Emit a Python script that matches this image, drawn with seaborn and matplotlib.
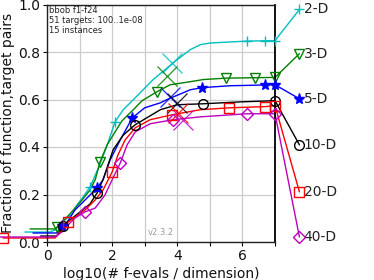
import numpy as np
import pandas as pd
import matplotlib
matplotlib.use("Agg")
import matplotlib.pyplot as plt
import seaborn as sns

# ---------------- data ----------------
dims = ["2-D", "3-D", "5-D", "10-D", "20-D", "40-D"]
colors = ["c", "g", "b", "k", "r", "m"]
markers = ["+", "v", "*", "o", "s", "D"]

x_2d = [-0.68, 0.09, 0.25, 0.40, 0.55, 0.77, 0.92, 1.11, 1.32, 1.42, 1.63, 1.85, 2.09, 2.34, 2.65, 3.26, 3.88, 4.40, 4.71, 5.02, 6.15, 7.0]
y_2d = [0.042, 0.042, 0.051, 0.068, 0.093, 0.118, 0.156, 0.19, 0.232, 0.262, 0.329, 0.409, 0.506, 0.557, 0.599, 0.684, 0.755, 0.81, 0.831, 0.838, 0.846, 0.848]

x_3d = [-0.52, 0.25, 0.40, 0.65, 0.86, 1.08, 1.32, 1.48, 1.63, 1.85, 2.03, 2.30, 2.65, 2.92, 3.38, 3.78, 4.40, 4.80, 5.50, 7.0]
y_3d = [0.055, 0.055, 0.076, 0.11, 0.143, 0.177, 0.219, 0.262, 0.338, 0.41, 0.45, 0.51, 0.557, 0.595, 0.633, 0.662, 0.675, 0.684, 0.69, 0.693]

x_5d = [-0.43, 0.30, 0.40, 0.62, 0.86, 1.17, 1.54, 1.72, 1.94, 2.25, 2.62, 3.00, 3.48, 3.69, 4.40, 4.77, 5.63, 7.0]
y_5d = [0.038, 0.038, 0.06, 0.084, 0.135, 0.177, 0.228, 0.262, 0.346, 0.43, 0.523, 0.565, 0.586, 0.60, 0.641, 0.65, 0.658, 0.662]

x_10d = [-0.20, 0.30, 0.40, 0.55, 0.77, 1.02, 1.32, 1.54, 1.72, 2.03, 2.34, 2.71, 3.48, 4.00, 4.80, 5.94, 7.0]
y_10d = [0.025, 0.025, 0.05, 0.076, 0.10, 0.127, 0.16, 0.207, 0.262, 0.388, 0.45, 0.494, 0.557, 0.578, 0.582, 0.59, 0.595]

x_20d = [-1.35, 0.25, 0.40, 0.55, 0.65, 0.86, 1.17, 1.48, 1.72, 1.88, 2.00, 2.18, 2.40, 2.71, 3.17, 3.85, 4.71, 5.60, 6.70, 7.0]
y_20d = [0.017, 0.017, 0.042, 0.068, 0.084, 0.105, 0.135, 0.177, 0.219, 0.262, 0.295, 0.367, 0.43, 0.481, 0.515, 0.536, 0.557, 0.565, 0.57, 0.574]

x_40d = [-1.45, 0.25, 0.46, 0.65, 0.86, 1.17, 1.48, 1.78, 2.00, 2.25, 2.46, 2.71, 3.17, 3.88, 4.71, 6.15, 7.0]
y_40d = [0.021, 0.021, 0.042, 0.072, 0.101, 0.127, 0.143, 0.198, 0.262, 0.333, 0.409, 0.464, 0.498, 0.515, 0.527, 0.54, 0.54]

xs = [x_2d, x_3d, x_5d, x_10d, x_20d, x_40d]
ys = [y_2d, y_3d, y_5d, y_10d, y_20d, y_40d]

# small marker positions (x) along each curve
mk_2d = [1.32, 2.09, 6.15, 6.70, 7.0]
mk_3d = [0.30, 1.63, 3.38, 5.50, 6.40, 7.0]
mk_5d = [0.45, 1.54, 2.62, 4.77, 6.70, 7.0]
mk_10d = [0.50, 1.54, 2.71, 4.80, 7.0]
mk_20d = [-1.35, 0.65, 2.00, 3.85, 5.60, 6.70, 7.0]
mk_40d = [1.17, 2.25, 3.88, 6.15, 7.0]
mks = [mk_2d, mk_3d, mk_5d, mk_10d, mk_20d, mk_40d]

# large x markers
big_x = [3.85, 3.69, 3.78, 4.00, 4.03, 4.18]
big_y = [0.755, 0.70, 0.612, 0.586, 0.544, 0.515]

# right-side labels
label_y = [0.979, 0.793, 0.603, 0.409, 0.211, 0.021]

info_text = "bbob f1-f24\n51 targets: 100..1e-08\n15 instances"
version = "v2.3.2"

# ---------------- plot ----------------
sns.set_style("whitegrid")
plt.rcParams['font.family'] = ['DejaVu Sans']

fig = plt.figure(figsize=(3.74, 2.8), dpi=100)
ax = fig.add_axes([47/374, 1-242/280, 228/374, 237.5/280])

frames = []
for d, x, y in zip(dims, xs, ys):
    frames.append(pd.DataFrame({"x": x, "y": y, "dim": d}))
df = pd.concat(frames, ignore_index=True)

sns.lineplot(data=df, x="x", y="y", hue="dim", palette=dict(zip(dims, colors)),
             estimator=None, sort=False, legend=False, linewidth=1.0, ax=ax)
for ln in ax.lines:
    ln.set_clip_on(False)

for d, c, m, x, y, mk, bx, by, ly in zip(dims, colors, markers, xs, ys, mks, big_x, big_y, label_y):
    my = np.interp(mk, x, y)
    filled = m in ["*", "+"]
    ms = 8 if m == "*" else 7
    if m == "D":
        ms = 6
    ax.plot(mk, my, linestyle="none", marker=m, ms=ms, mec=c,
            mfc=c if filled else "none", mew=1.0, clip_on=False, zorder=5)
    ax.plot([bx], [by], linestyle="none", marker="x", ms=15, mec=c, mew=0.9,
            alpha=0.85, clip_on=False, zorder=4)
    # connector to label
    ax.plot([x[-1], 7.75], [y[-1], ly], color=c, lw=1.0, clip_on=False)
    ax.plot([7.75], [ly], linestyle="none", marker=m, ms=ms, mec=c,
            mfc=c if filled else "none", mew=1.0, clip_on=False, zorder=5)
    ax.text(7.88, ly, d, fontsize=10, va="center", ha="left", color="#222222", clip_on=False)

ax.set_xlim(0, 7)
ax.set_ylim(0, 1)
ax.set_xticks(range(0, 8))
ax.set_xticklabels(["0", "", "2", "", "4", "", "6", ""])
ax.set_yticks([0, 0.2, 0.4, 0.6, 0.8, 1.0])
ax.set_yticklabels(["0.0", "0.2", "0.4", "0.6", "0.8", "1.0"])
ax.tick_params(axis="both", labelsize=10, length=3, width=0.8, color="k", direction="out",
               bottom=True, left=True, pad=2, labelcolor="#111111")
ax.grid(True, color="#cccccc", linewidth=0.9)
for s in ax.spines.values():
    s.set_visible(True)
    s.set_color("#222222")
    s.set_linewidth(1.0)
ax.spines["right"].set_linewidth(1.3)
ax.spines["right"].set_color("black")

ax.set_xlabel("log10(# f-evals / dimension)", fontsize=10, labelpad=3, color="#111111")
ax.set_ylabel("Fraction of function,target pairs", fontsize=10, labelpad=2, color="#111111")

ax.text(0.01, 0.993, info_text, transform=ax.transAxes, fontsize=6, va="top", ha="left",
        linespacing=1.1, color="#222222")
ax.text(3.5, 0.04, version, fontsize=6, color="#999999", ha="center", va="center")

fig.savefig("out.png", dpi=100)
